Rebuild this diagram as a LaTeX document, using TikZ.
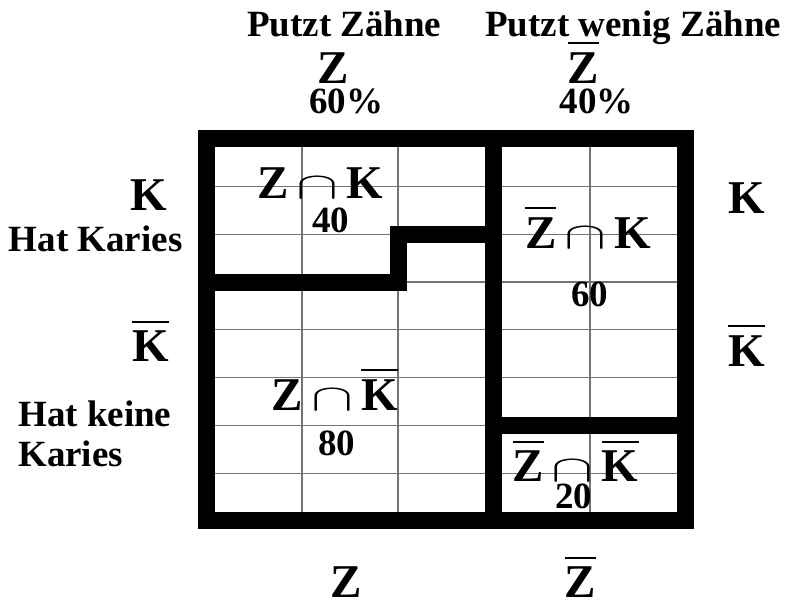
\documentclass[tikz,border=0pt]{standalone}
\usepackage{fontspec}
\setmainfont{Liberation Serif}
\usepackage{graphicx}
\usetikzlibrary{calc,positioning}

\newcommand{\ovl}[1]{\vbox{\hrule height 1pt\kern 4pt\hbox{#1}}}
\newcommand{\schnitt}{\hspace{4pt}\resizebox{21pt}{10.5pt}{$\cap$}\hspace{4pt}}

\begin{document}
\begin{tikzpicture}[x=48pt, y=23.9pt,
    small/.style = {font=\fontsize{18.5}{20}\selectfont\bfseries, inner sep=0pt, anchor=base},
    big/.style = {font=\fontsize{23.5}{26}\selectfont\bfseries, inner sep=0pt, anchor=base},
    netz/.style = {draw=black!55, line width=0.6pt},
    rand/.style = {draw, line width=8.5pt}]
    \useasboundingbox (-2.146,-1.778) rectangle (6.094,10.9);
    % Raster und Felder
    \foreach \i in {1,...,4}
        \draw[netz] (\i,0) -- (\i,8);
    \foreach \j in {1,...,7}
        \draw[netz] (0,\j) -- (5,\j);
    \draw[rand] (0,0) rectangle (5,8);
    \draw[rand] (3,0) -- (3,8);
    \draw[rand] (0,5) -- (2,5) -- (2,6) -- (3,6);
    \draw[rand] (3,2) -- (5,2);
    % oben
    \node[small] (zt) at (1.44,10.13) {Putzt Zähne};
    \node[small] (zqt) at (4.45,10.13) {Putzt wenig Zähne};
    \node[big] (z) at (1.32,9.16) {Z};
    \node[big] (zq) at (3.93,9.16) {\ovl{Z}};
    \node[small] (pz) at (1.46,8.52) {60\%};
    \node[small] (pzq) at (4.07,8.52) {40\%};
    % links
    \node[big] (kl) at (-0.60,6.49) {K};
    \node[small] (kt) at (-1.15,5.63) {Hat Karies};
    \node[big] (kql) at (-0.58,3.33) {\ovl{K}};
    \node[small, anchor=base west] (kqt) at (-1.96,1.97) {Hat keine};
    \node[small, anchor=base west] (kqt2) at (-1.96,1.13) {Karies};
    % rechts
    \node[big] (kr) at (5.63,6.44) {K};
    \node[big] (kqr) at (5.63,3.24) {\ovl{K}};
    % unten
    \node[big] (zb) at (1.46,-1.61) {Z};
    \node[big] (zqb) at (3.90,-1.61) {\ovl{Z}};
    % Felder
    \node[big] (zk) at (1.19,6.74) {Z\schnitt K};
    \node[small] (nzk) at (1.30,6.03) {40};
    \node[big] (zqk) at (3.98,5.71) {\ovl{Z}\schnitt K};
    \node[small] (nzqk) at (4.00,4.48) {60};
    \node[big] (zkq) at (1.34,2.32) {Z\schnitt\ovl{K}};
    \node[small] (nzkq) at (1.36,1.38) {80};
    \node[big] (zqkq) at (3.85,0.82) {\ovl{Z}\schnitt\ovl{K}};
    \node[small] (nzqkq) at (3.83,0.27) {20};
\end{tikzpicture}
\end{document}
